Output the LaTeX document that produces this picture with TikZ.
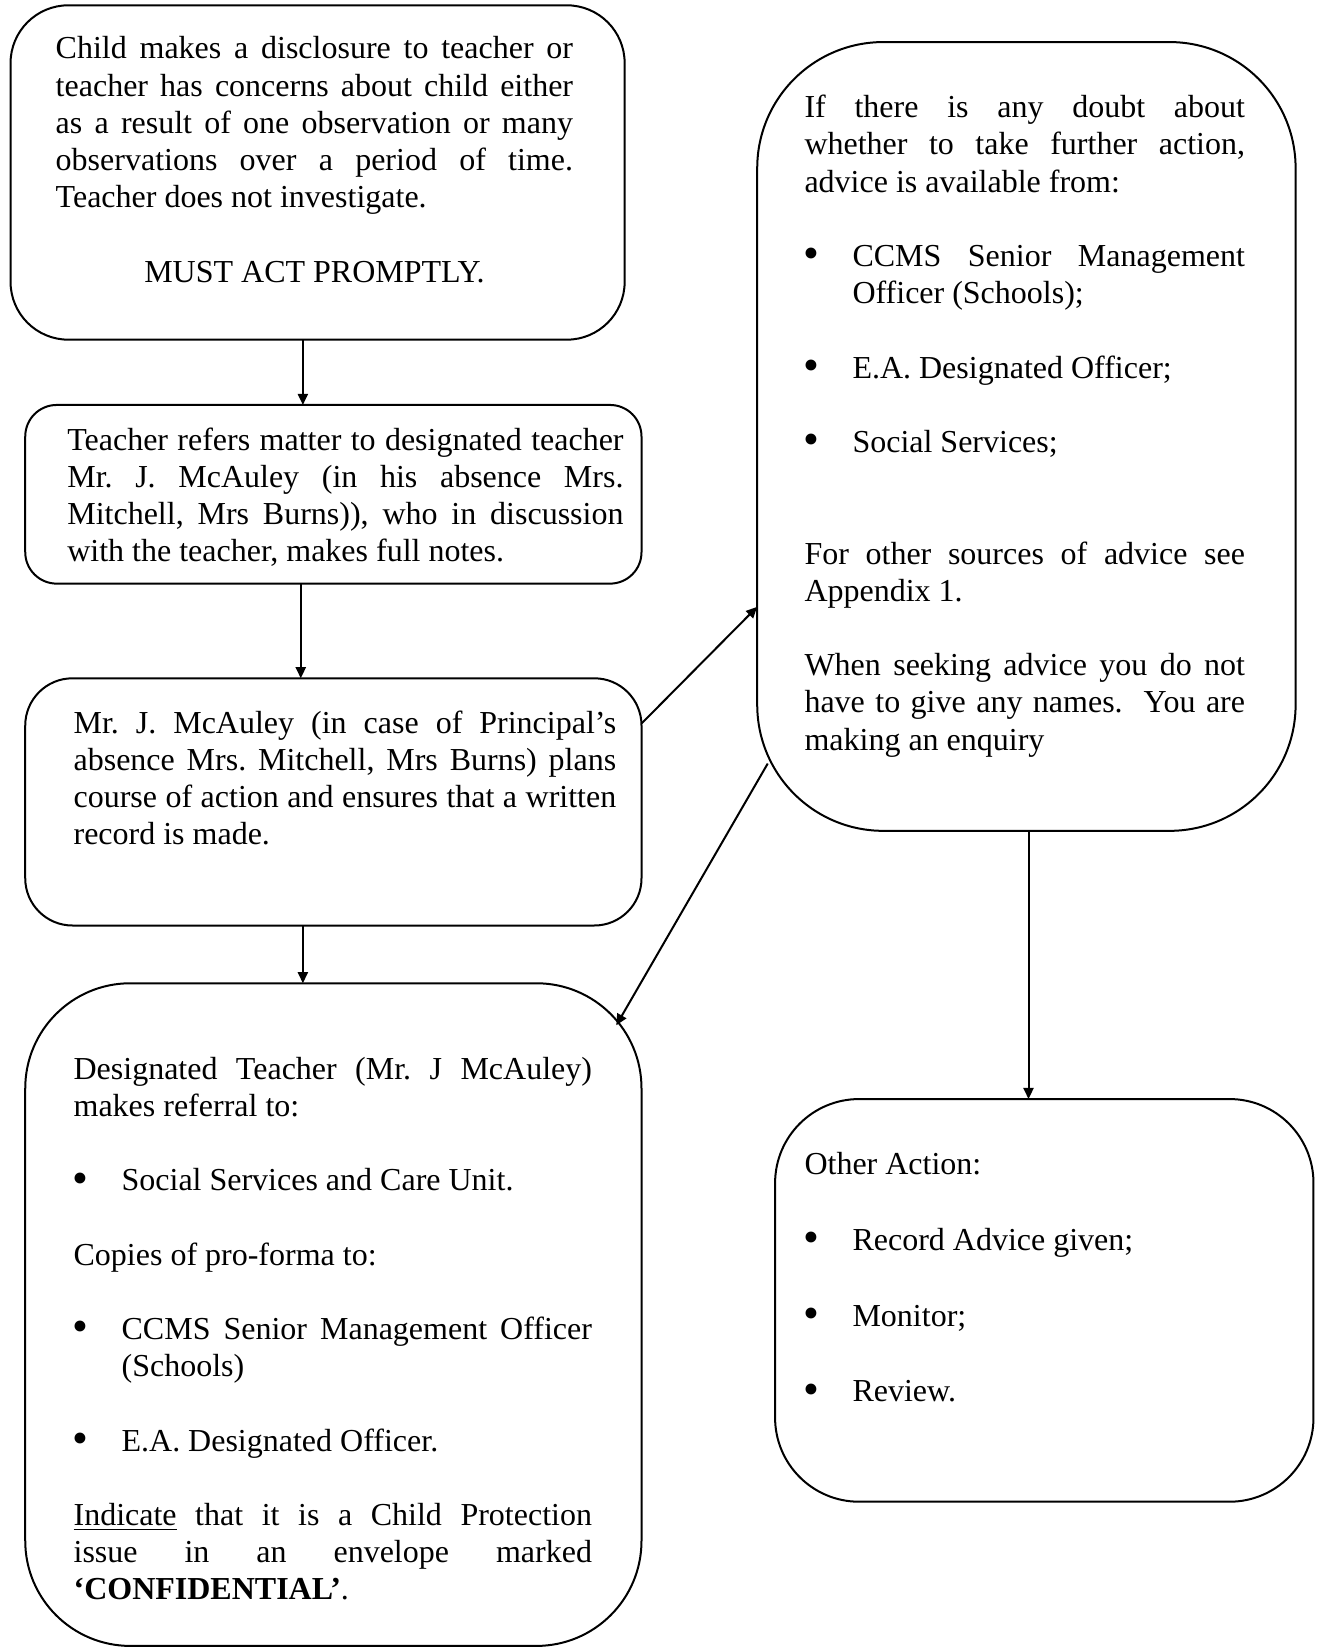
\documentclass[tikz,border=0pt]{standalone}
\usepackage{fontspec}
\setmainfont{Liberation Serif}
\usetikzlibrary{arrows.meta,calc}
\tolerance=10000
\hbadness=10000
\hyphenpenalty=10000
\exhyphenpenalty=10000
\frenchspacing
\newcommand\mybullet{\raisebox{-0.9pt}{\fontsize{17pt}{17pt}\selectfont\textbullet}}
\newcommand\myitem{\par\noindent\hangindent=18pt\hangafter=1\makebox[18pt][l]{\kern-0.3pt\mybullet}}
\newcommand\myskip{\par\vspace{\baselineskip}}
\begin{document}
\begin{tikzpicture}[x=0.39438pt,y=-0.39438pt,
  box/.style={draw, line width=0.75pt, inner sep=0pt, outer sep=0pt},
  txt/.style={anchor=base west, inner sep=0pt, outer sep=0pt, align=justify,
    font={\fontsize{12pt}{13.95pt}\selectfont\parindent=0pt}},
  arr/.style={line width=0.75pt, -{Triangle[length=4.2pt,width=3.8pt]}}]
\useasboundingbox (0,0) rectangle (1257,1568);
% boxes
\node[box, minimum width=230.3pt, minimum height=125.4pt, rounded corners=21.7pt] (b1) at (302,164) {};
\node[box, minimum width=231.1pt, minimum height=67.0pt, rounded corners=11.8pt] (b2) at (317,470) {};
\node[box, minimum width=231.1pt, minimum height=92.7pt, rounded corners=17.7pt] (b3) at (317,762.5) {};
\node[box, minimum width=231.1pt, minimum height=248.5pt, rounded corners=39.4pt] (b4) at (317,1250) {};
\node[box, minimum width=201.9pt, minimum height=295.8pt, rounded corners=47.3pt] (b5) at (976,415) {};
\node[box, minimum width=201.9pt, minimum height=151.0pt, rounded corners=31.5pt] (b6) at (993,1236.5) {};
% texts
\node[txt, text width=194pt] (t1) at (53,56) {Child makes a disclosure to teacher or\linebreak teacher has concerns about child either\linebreak as a result of one observation or many\linebreak observations over a period of time.\linebreak Teacher does not investigate.\myskip{\centering MUST ACT PROMPTLY.\par}};
\node[txt, text width=208.6pt] (t2) at (64,428) {Teacher refers matter to designated teacher\linebreak Mr. J. McAuley (in his absence Mrs.\linebreak Mitchell, Mrs Burns)), who in discussion\linebreak with the teacher, makes full notes.};
\node[txt, text width=203.5pt] (t3) at (70,697) {Mr. J. McAuley (in case of Principal’s\linebreak absence Mrs. Mitchell, Mrs Burns) plans\linebreak course of action and ensures that a written\linebreak record is made.};
\node[txt, text width=194.4pt] (t4) at (70,1026) {Designated Teacher (Mr. J McAuley)\linebreak makes referral to:\myskip
\myitem Social Services and Care Unit.\myskip
Copies of pro-forma to:\myskip
\myitem CCMS Senior Management Officer\linebreak (Schools)\myskip
\myitem E.A. Designated Officer.\myskip
\underline{Indicate} that it is a Child Protection\linebreak issue in an envelope marked\linebreak \textbf{‘CONFIDENTIAL’}.};
\node[txt, text width=165.2pt] (t5) at (765,112) {If there is any doubt about\linebreak whether to take further action,\linebreak advice is available from:\myskip
\myitem CCMS Senior Management\linebreak Officer (Schools);\myskip
\myitem E.A. Designated Officer;\myskip
\myitem Social Services;\myskip\vspace{\baselineskip}
For other sources of advice see\linebreak Appendix 1.\myskip
When seeking advice you do not\linebreak have to give any names.\ \ You are\linebreak making an enquiry};
\node[txt, text width=165pt, font={\fontsize{12pt}{14.2pt}\selectfont\parindent=0pt}] (t6) at (765,1117) {Other Action:\myskip
\myitem Record Advice given;\myskip
\myitem Monitor;\myskip
\myitem Review.};
% connectors
\draw[arr] ($(b1.south)+(-14,0)$) -- ($(b2.north)+(-29,0)$);
\draw[arr] ($(b2.south)+(-31,0)$) -- ($(b3.north)+(-31,0)$);
\draw[arr] ($(b3.south)+(-29,0)$) -- ($(b4.north)+(-29,0)$);
\draw[arr] ($(b3.east)+(0,-74.5)$) -- ($(b5.west)+(0,162)$);
\draw[arr] ($(b5.south west)+(10,-64)$) -- ($(b4.north east)+(-24,40)$);
\draw[arr] ($(b5.south)+(2,0)$) -- ($(b6.north)+(-15,0)$);
\end{tikzpicture}
\end{document}
